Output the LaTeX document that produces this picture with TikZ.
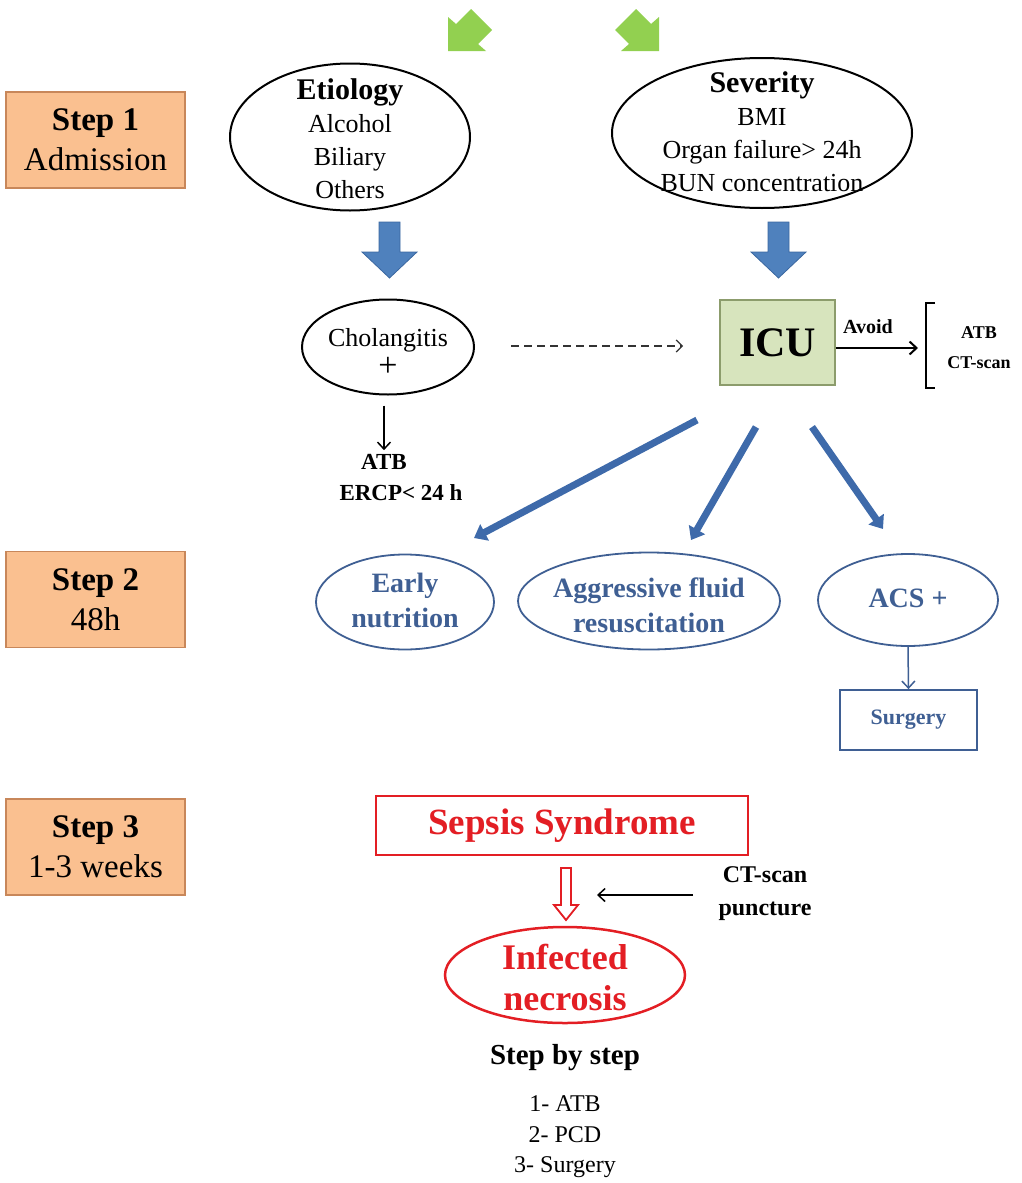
\documentclass[tikz,border=0pt]{standalone}
\usepackage{fontspec}
\setmainfont{Liberation Serif}
\usetikzlibrary{arrows.meta,shapes.geometric,calc}
\definecolor{stepfill}{HTML}{FAC090}
\definecolor{stepline}{HTML}{C8875A}
\definecolor{lgreen}{HTML}{92D050}
\definecolor{bblue}{HTML}{4F81BD}
\definecolor{bblueline}{HTML}{3A67A0}
\definecolor{tblue}{HTML}{3E6AAA}
\definecolor{txtblue}{HTML}{3F5F93}
\definecolor{icufill}{HTML}{D7E4BD}
\definecolor{iculine}{HTML}{8C9C6C}
\definecolor{sred}{HTML}{E31E24}
\newcommand{\fsz}[2]{\fontsize{#1}{#2}\selectfont}
\begin{document}
\begin{tikzpicture}[x=1pt,y=-1pt,
  stepbox/.style={draw=stepline, fill=stepfill, line width=1.2pt, minimum width=179pt, minimum height=96pt, align=center, inner sep=0pt, font=\fsz{33}{40}},
  blkell/.style={draw=black, line width=2pt, ellipse, inner sep=0pt},
  bluell/.style={draw=txtblue, line width=1.8pt, ellipse, inner sep=0pt},
  bluetxt/.style={text=txtblue, font=\fsz{28}{35}\bfseries, align=center, inner sep=0pt},
  bigarrow/.style={fill=bblue, draw=bblueline, line width=0.8pt},
  greenarrow/.style={fill=lgreen},
  thinblue/.style={draw=tblue, line width=7pt, -{Triangle[width=18pt,length=12pt]}},
  barb/.style={line width=1.5pt, -{Straight Barb[length=7pt,width=13pt]}},
  txt/.style={align=center, inner sep=0pt}
]
\useasboundingbox (0,0) rectangle (1022,1183);

% green arrows (cut at top)
\fill[greenarrow] (448,51) -- (448,17) -- (456,24) -- (471,9) -- (492,30) -- (478,44) -- (486,51) -- cycle;
\fill[greenarrow] (659,51) -- (659,17) -- (651,24) -- (636,9) -- (615,30) -- (629,44) -- (621,51) -- cycle;

% step boxes
\node[stepbox] (s1) at (95.5,140) {\textbf{Step 1}\\Admission};
\node[stepbox] (s2) at (95.5,599.5) {\textbf{Step 2}\\48h};
\node[stepbox] (s3) at (95.5,847) {\textbf{Step 3}\\1-3 weeks};

% etiology / severity
\node[blkell, minimum width=240pt, minimum height=147pt] (etio) at (350,137) {};
\node[txt, font=\fsz{26}{33}] (etiot) at (350,139) {{\fsz{30}{33}\bfseries Etiology}\\Alcohol\\Biliary\\Others};
\node[blkell, minimum width=300pt, minimum height=150pt] (sev) at (762,133) {};
\node[txt, font=\fsz{26}{33}] (sevt) at (762,132) {{\fsz{30}{33}\bfseries Severity}\\BMI\\Organ failure> 24h\\BUN concentration};

% big blue arrows
\draw[bigarrow] (379,222) -- (400,222) -- (400,252) -- (417,252) -- (389.5,278) -- (362,252) -- (379,252) -- cycle;
\draw[bigarrow] (768,222) -- (789,222) -- (789,252) -- (806,252) -- (778.5,278) -- (751,252) -- (768,252) -- cycle;

% cholangitis
\node[blkell, minimum width=172pt, minimum height=95pt] (chol) at (388,347) {};
\node[txt, font=\fsz{26}{30}] (cholt) at (388,352) {Cholangitis\\{\fsz{34}{30}+}};

% ICU
\node[draw=iculine, fill=icufill, line width=1.5pt, minimum width=115pt, minimum height=85pt, inner sep=0pt, font=\fsz{42}{42}\bfseries] (icu) at (777.5,342.5) {ICU};

% dashed arrow
\coordinate (dashend) at (683,346);
\draw[draw=black!80, line width=1.2pt, dash pattern=on 8pt off 5pt, -{Straight Barb[length=6pt,width=12pt]}, shorten <=36pt] (chol.east |- dashend) -- (dashend);

% avoid
\coordinate (brk) at (918,348);
\draw[barb, line width=2pt] (icu.east |- brk) -- (brk);
\node[txt, font=\fsz{20}{20}\bfseries] (avoid) at (868,327) {Avoid};
\draw[line width=1.5pt] (935,303) -- (926,303) -- (926,388) -- (935,388);
\node[txt, font=\fsz{18}{30}\bfseries] (avlist) at (979,348) {ATB\\CT-scan};

% cholangitis -> ATB
\node[txt, font=\fsz{23}{31}\bfseries] (atb) at (384,462) {ATB};
\node[txt, font=\fsz{23}{31}\bfseries] (ercp) at (401,493) {ERCP< 24 h};
\draw[barb, shorten <=10pt, shorten >=4pt] (chol.south -| atb) -- (atb.north);

% ICU -> treatments
\coordinate (i1) at (697,420);
\coordinate (i2) at (756,427);
\coordinate (i3) at (812,427);
\coordinate (e1) at (474,538);
\coordinate (e2) at (691,540);
\coordinate (e3) at (883,529);
\draw[thinblue] (i1) -- (e1);
\draw[thinblue] (i2) -- (e2);
\draw[thinblue] (i3) -- (e3);

\node[bluell, minimum width=178pt, minimum height=95pt] (early) at (405,602) {};
\node[bluetxt] (earlyt) at (405,600) {Early\\nutrition};
\node[bluell, minimum width=262pt, minimum height=97pt] (aggr) at (649,601) {};
\node[bluetxt] (aggrt) at (649,605) {Aggressive fluid\\resuscitation};
\node[bluell, minimum width=180pt, minimum height=92pt] (acs) at (908,600) {};
\node[bluetxt] (acst) at (908,598) {ACS +};

\node[draw=txtblue, line width=1.8pt, minimum width=137pt, minimum height=60pt, inner sep=0pt, text=txtblue, font=\fsz{22}{22}\bfseries] (surg) at (908.5,720) {Surgery};
\draw[draw=txtblue, line width=1.5pt, -{Straight Barb[length=7pt,width=13pt]}] (acs.south) -- (surg.north);

% step 3
\node[draw=sred, line width=2pt, minimum width=372pt, minimum height=59pt, inner sep=0pt, text=sred, font=\fsz{37}{37}\bfseries] (sepsis) at (562,825.5) {Sepsis Syndrome};
\draw[draw=sred, fill=white, line width=1.8pt] (561,868) -- (571,868) -- (571,905) -- (578,905) -- (566,920) -- (554,905) -- (561,905) -- cycle;

\node[txt, font=\fsz{24}{33}\bfseries] (ct) at (765,894) {CT-scan\\puncture};
\coordinate (ctstart) at (693,895);
\coordinate (ctend) at (597,895);
\draw[barb] (ctstart) -- (ctend);

\node[draw=sred, line width=2.5pt, ellipse, minimum width=240pt, minimum height=96pt, inner sep=0pt] (inf) at (565,975) {};
\node[txt, text=sred, font=\fsz{36}{41}\bfseries] (inft) at (565,977) {Infected\\necrosis};

\node[txt, font=\fsz{29}{30}\bfseries] (sbs) at (565,1058) {Step by step};
\node[txt, font=\fsz{24}{30.5}] (list) at (565,1137) {1- ATB\\2- PCD\\3- Surgery};
\end{tikzpicture}
\end{document}
